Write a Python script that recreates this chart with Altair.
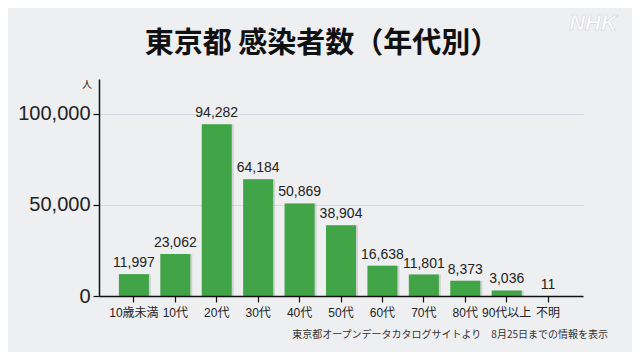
import altair as alt
import pandas as pd

categories = ["10歳未満", "10代", "20代", "30代", "40代", "50代", "60代", "70代", "80代", "90代以上", "不明"]
cases = [11997, 23062, 94282, 64184, 50869, 38904, 16638, 11801, 8373, 3036, 11]
y_ticks = [0, 50000, 100000]
title_text = ["東京都 感染者数（年代別）"]
unit_text = ["人"]
source_text = ["東京都オープンデータカタログサイトより　8月25日までの情報を表示"]
logo_text = ["NHK"]

df = pd.DataFrame({"cat": categories, "n": cases})
df["label"] = [f"{v:,}" for v in cases]

NUM_FONT = "Liberation Sans, Noto Sans CJK JP"
JP_FONT = "Noto Sans CJK JP"

x_enc = alt.X(
    "cat:N", sort=categories,
    scale=alt.Scale(paddingInner=0.275, paddingOuter=0.48),
    axis=alt.Axis(title=None, labelAngle=0, labelFontSize=12, labelFont=NUM_FONT,
                  labelColor="#222", labelPadding=5, tickSize=6, tickColor="#111",
                  tickWidth=1.2, domainColor="#111", domainWidth=1.5, zindex=1),
)
y_enc = alt.Y(
    "n:Q",
    scale=alt.Scale(domain=[0, 119200], nice=False),
    axis=alt.Axis(values=y_ticks, format=",.0f", title=None, labelFontSize=20,
                  labelFont=NUM_FONT, labelColor="#222", labelPadding=3, tickSize=6,
                  tickColor="#111", tickWidth=1.2, domainColor="#111", domainWidth=1.5,
                  grid=True, gridColor="#d3dae2", gridWidth=1),
)

shadow = alt.Chart(df).mark_bar(color="#000000", opacity=0.12, xOffset=2).encode(x=x_enc, y=y_enc)
bars = alt.Chart(df).mark_bar(color="#41a447").encode(x=x_enc, y=y_enc)
labels = alt.Chart(df).mark_text(baseline="bottom", dy=-4, fontSize=14, font=NUM_FONT,
                                 color="#222").encode(x=x_enc, y=y_enc, text="label:N")

title = alt.Chart(pd.DataFrame({"t": title_text})).mark_text(
    font=JP_FONT, fontWeight="bold", fontSize=29, color="#111", align="center",
    baseline="middle").encode(x=alt.value(223), y=alt.value(-35), text="t:N")
unit = alt.Chart(pd.DataFrame({"t": unit_text})).mark_text(
    font=JP_FONT, fontSize=10, color="#222", align="center",
    baseline="middle").encode(x=alt.value(-12), y=alt.value(6), text="t:N")
source = alt.Chart(pd.DataFrame({"t": source_text})).mark_text(
    font=JP_FONT, fontSize=10, color="#333", align="right",
    baseline="middle").encode(x=alt.value(509), y=alt.value(256), text="t:N")
logo = alt.Chart(pd.DataFrame({"t": logo_text})).mark_text(
    font="Liberation Sans", fontWeight="bold", fontStyle="italic", fontSize=22,
    color="#ffffff", stroke="#d2d2d6", strokeWidth=0.6, align="center",
    baseline="middle").encode(x=alt.value(494), y=alt.value(-56), text="t:N")

chart = alt.layer(shadow, bars, labels, title, unit, source, logo).properties(
    width=484, height=217,
    background="#eeeff1",
    padding={"left": 91, "top": 71, "right": 49, "bottom": 56},
    autosize=alt.AutoSizeParams(type="none"),
).configure_view(stroke=None)

chart.save("out.html", embed_options={"renderer": "svg", "actions": False})
